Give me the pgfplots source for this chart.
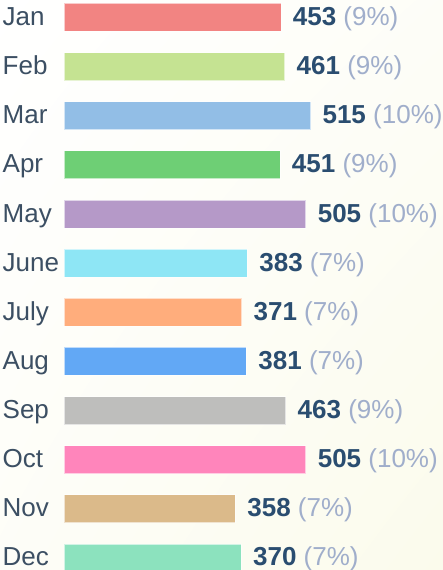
\documentclass[border=0pt]{standalone}
\usepackage{pgfplots}
\pgfplotsset{compat=1.18}
\usetikzlibrary{shadings}
\usepackage{fontspec}
\setmainfont{Liberation Sans}
\definecolor{cJan}{HTML}{F28482}
\definecolor{cFeb}{HTML}{C5E392}
\definecolor{cMar}{HTML}{92BEE6}
\definecolor{cApr}{HTML}{6ECF75}
\definecolor{cMay}{HTML}{B599C8}
\definecolor{cJun}{HTML}{8EE6F5}
\definecolor{cJul}{HTML}{FFAD7C}
\definecolor{cAug}{HTML}{62A8F5}
\definecolor{cSep}{HTML}{BEBEBC}
\definecolor{cOct}{HTML}{FF85BB}
\definecolor{cNov}{HTML}{DBBA8A}
\definecolor{cDec}{HTML}{8CE2BE}
\definecolor{labc}{HTML}{3C4F63}
\definecolor{valc}{HTML}{2A4D70}
\definecolor{pctc}{HTML}{A0AECB}
\definecolor{bgc}{HTML}{FBFBEC}
\newcommand\mbar[4]{\addplot[fill=#1,draw=white,draw opacity=0.6,line width=0.8bp,
  nodes near coords={\textbf{\color{valc}#2} {\color{pctc}(#4\%)}}] coordinates {(#2,#3)};}
\begin{document}
\begin{tikzpicture}
\shade[upper left=white,upper right=white!60!bgc,lower left=white!60!bgc,lower right=bgc] (-64bp,12.5bp) rectangle (379bp,582.5bp);
\begin{axis}[
  at={(0,0)},anchor=south west,
  scale only axis,
  width=383.2bp,height=589.6bp,
  xmin=0,xmax=800,
  ymin=-0.5,ymax=11.5,
  y dir=reverse,
  xbar, bar width=28bp, bar shift=0pt,
  axis line style={draw=none},
  xtick=\empty,
  ytick={0,...,11},
  yticklabels={Jan,Feb,Mar,Apr,May,June,July,Aug,Sep,Oct,Nov,Dec},
  major tick length=0pt,
  yticklabel style={anchor=base west,xshift=-61.5bp,yshift=-8bp,inner sep=0pt,
    font=\fontsize{26bp}{30bp}\selectfont,text=labc},
  every node near coord/.style={anchor=base west,xshift=11.5bp,yshift=-8bp,inner sep=0pt,
    font=\fontsize{26bp}{30bp}\selectfont},
  clip=false,
]
\mbar{cJan}{453}{0}{9}
\mbar{cFeb}{461}{1}{9}
\mbar{cMar}{515}{2}{10}
\mbar{cApr}{451}{3}{9}
\mbar{cMay}{505}{4}{10}
\mbar{cJun}{383}{5}{7}
\mbar{cJul}{371}{6}{7}
\mbar{cAug}{381}{7}{7}
\mbar{cSep}{463}{8}{9}
\mbar{cOct}{505}{9}{10}
\mbar{cNov}{358}{10}{7}
\mbar{cDec}{370}{11}{7}
\end{axis}
\pgfresetboundingbox
\path[use as bounding box] (-64bp,12.5bp) rectangle (379bp,582.5bp);
\end{tikzpicture}
\end{document}
